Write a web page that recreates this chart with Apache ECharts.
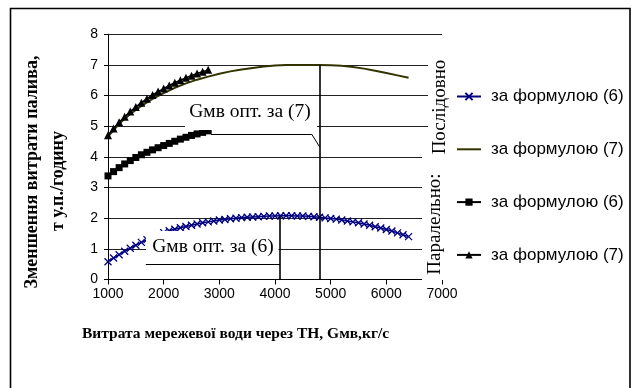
<!DOCTYPE html>
<html>
<head>
<meta charset="utf-8">
<script src="https://cdn.jsdelivr.net/npm/echarts@6/dist/echarts.min.js"></script>
<style>
html,body{margin:0;padding:0;background:#fff;}
#c{width:633px;height:388px;}
</style>
</head>
<body>
<div id="c"></div>
<script>
// X values (кг/с)
const xSeq = [1000,1100,1200,1300,1400,1500,1600,1700,1800,1900,2000,2100,2200,2300,2400,2500,2600,2700,2800,2900,3000,3100,3200,3300,3400,3500,3600,3700,3800,3900,4000,4100,4200,4300,4400,4500,4600,4700,4800,4900,5000,5100,5200,5300,5400,5500,5600,5700,5800,5900,6000,6100,6200,6300,6400];
// Послідовно, за формулою (6)
const seq6 = [0.58,0.70,0.81,0.92,1.02,1.12,1.21,1.30,1.38,1.46,1.53,1.59,1.64,1.69,1.73,1.77,1.81,1.85,1.88,1.91,1.94,1.96,1.98,2.00,2.02,2.03,2.04,2.05,2.06,2.07,2.07,2.08,2.08,2.08,2.07,2.07,2.06,2.05,2.03,2.01,1.99,1.97,1.94,1.91,1.88,1.85,1.81,1.77,1.72,1.68,1.63,1.58,1.52,1.46,1.40];
// Послідовно, за формулою (7)
const xSeq7 = [1000,1200,1400,1600,1800,2000,2200,2400,2600,2800,3000,3200,3400,3600,3800,4000,4200,4400,4600,4800,5000,5200,5400,5600,5800,6000,6200,6400];
const seq7 = [4.66,5.08,5.40,5.66,5.89,6.08,6.25,6.40,6.52,6.62,6.71,6.79,6.85,6.90,6.95,6.98,7.00,7.00,7.00,7.00,6.99,6.97,6.93,6.88,6.81,6.74,6.66,6.58];
// Паралельно
const xPar = [1000,1100,1200,1300,1400,1500,1600,1700,1800,1900,2000,2100,2200,2300,2400,2500,2600,2700,2800];
const par6 = [3.38,3.52,3.65,3.77,3.88,3.98,4.07,4.15,4.23,4.30,4.37,4.44,4.51,4.58,4.64,4.70,4.75,4.80,4.85];
const par7 = [4.71,4.93,5.13,5.31,5.48,5.63,5.77,5.90,6.02,6.13,6.23,6.33,6.42,6.50,6.58,6.65,6.72,6.78,6.84];
// Optimum markers (x, top y)
const opt6 = [4090, 2.07];
const opt7 = [4800, 7.0];
const callout6 = [[1680, 0.51], [4090, 0.51]];
const callout7 = [[2850, 4.74], [4660, 4.74], [4800, 4.33]];
const names = ['за формулою (6)', 'за формулою (7)', 'за формулою (6) ', 'за формулою (7) '];

const zip = (xs, ys) => xs.map((x, i) => [x, ys[i]]);
const SERIF = '"Liberation Serif","Times New Roman",serif';
const SANS = '"Liberation Sans",Arial,sans-serif';

const chart = echarts.init(document.getElementById('c'), null, {renderer: 'canvas'});
const segs = [];
segs.push([{coord: [opt6[0], opt6[1]]}, {coord: [opt6[0], 0]}]);
segs.push([{coord: [opt7[0], opt7[1]]}, {coord: [opt7[0], 0]}]);
const thin = [];
for (let i = 0; i < callout6.length - 1; i++) thin.push([{coord: callout6[i]}, {coord: callout6[i + 1]}]);
for (let i = 0; i < callout7.length - 1; i++) thin.push([{coord: callout7[i]}, {coord: callout7[i + 1]}]);

chart.setOption({
  animation: false,
  backgroundColor: '#fff',
  grid: {left: 108, right: 191, top: 34.3, bottom: 108.5, containLabel: false},
  xAxis: {
    type: 'value', min: 1000, max: 7000, interval: 1000,
    axisLine: {lineStyle: {color: '#000', width: 1}},
    axisTick: {show: true, inside: false, length: 5, lineStyle: {color: '#000'}},
    axisLabel: {color: '#000', fontFamily: SANS, fontSize: 14, margin: 8, formatter: v => String(v)},
    splitLine: {show: false}
  },
  yAxis: {
    type: 'value', min: 0, max: 8, interval: 1,
    axisLine: {show: true, lineStyle: {color: '#000', width: 1}},
    axisTick: {show: true, inside: false, length: 4, lineStyle: {color: '#000'}},
    axisLabel: {color: '#000', fontFamily: SANS, fontSize: 14, margin: 10, formatter: v => String(v)},
    splitLine: {show: true, lineStyle: {color: '#222', width: 1}}
  },
  legend: {
    orient: 'vertical', left: 456, top: 88, padding: 0, itemWidth: 24, itemHeight: 9, itemGap: 35.8,
    textStyle: {color: '#000', fontFamily: SANS, fontSize: 17, padding: [0, 0, 0, 5]},
    data: [
      {name: names[0]},
      {name: names[1], itemStyle: {color: 'rgba(0,0,0,0)', borderColor: 'rgba(0,0,0,0)', borderWidth: 0}},
      {name: names[2]},
      {name: names[3]}
    ]
  },
  series: [
    {
      name: names[0], type: 'line', data: zip(xSeq, seq6), z: 3,
      symbol: 'path://M0,0L10,10M10,0L0,10', symbolSize: 7,
      itemStyle: {color: '#000080', borderColor: '#000080', borderWidth: 1.3},
      lineStyle: {color: '#000080', width: 1.5},
      markLine: {
        silent: true, symbol: 'none', label: {show: false},
        lineStyle: {color: '#000', width: 1.6, type: 'solid'},
        emphasis: {disabled: true},
        data: segs
      }
    },
    {
      name: names[1], type: 'line', data: zip(xSeq7, seq7), z: 3,
      symbol: 'none', showSymbol: false,
      itemStyle: {color: '#333300'},
      lineStyle: {color: '#333300', width: 2},
      markLine: {
        silent: true, symbol: 'none', label: {show: false},
        lineStyle: {color: '#000', width: 1, type: 'solid'},
        emphasis: {disabled: true},
        data: thin
      }
    },
    {
      name: names[2], type: 'line', data: zip(xPar, par6), z: 3,
      symbol: 'rect', symbolSize: 7,
      itemStyle: {color: '#000'},
      lineStyle: {color: '#000', width: 1.5}
    },
    {
      name: names[3], type: 'line', data: zip(xPar, par7), z: 3,
      symbol: 'triangle', symbolSize: 8,
      itemStyle: {color: '#000'},
      lineStyle: {color: '#000', width: 1.5}
    }
  ],
  graphic: {elements: [
    {type: 'rect', z: 1, shape: {x: 10.5, y: 8.5, width: 619.5, height: 400}, style: {fill: 'none', stroke: '#000', lineWidth: 1.6}, silent: true},
    {type: 'rect', z: 100, shape: {x: 185, y: 99, width: 132, height: 31}, style: {fill: '#fff'}, silent: true},
    {type: 'rect', z: 100, shape: {x: 146, y: 231, width: 132.5, height: 31}, style: {fill: '#fff'}, silent: true},
    {type: 'rect', z: 100, shape: {x: 428, y: 56, width: 22, height: 102}, style: {fill: '#fff'}, silent: true},
    {type: 'rect', z: 100, shape: {x: 422, y: 150, width: 27, height: 130}, style: {fill: '#fff'}, silent: true},
    {type: 'text', z: 101, x: 250, y: 112, style: {text: 'Gмв опт. за (7)', font: '19.5px ' + SERIF, fill: '#000', align: 'center', verticalAlign: 'middle'}, silent: true},
    {type: 'text', z: 101, x: 213, y: 247, style: {text: 'Gмв опт. за (6)', font: '19.5px ' + SERIF, fill: '#000', align: 'center', verticalAlign: 'middle'}, silent: true},
    {type: 'text', z: 101, x: 440, y: 107, rotation: Math.PI / 2, style: {text: 'Послідовно', font: '19px ' + SERIF, fill: '#000', align: 'center', verticalAlign: 'middle'}, silent: true},
    {type: 'text', z: 101, x: 435, y: 224, rotation: Math.PI / 2, style: {text: 'Паралельно:', font: '19px ' + SERIF, fill: '#000', align: 'center', verticalAlign: 'middle'}, silent: true},
    {type: 'text', z: 101, x: 32, y: 172, rotation: Math.PI / 2, style: {text: 'Зменшення витрати палива,', font: 'bold 18px ' + SERIF, fill: '#000', align: 'center', verticalAlign: 'middle'}, silent: true},
    {type: 'text', z: 101, x: 58, y: 181, rotation: Math.PI / 2, style: {text: 'т у.п./годину', font: 'bold 18px ' + SERIF, fill: '#000', align: 'center', verticalAlign: 'middle'}, silent: true},
    {type: 'text', z: 101, x: 82, y: 334, style: {text: 'Витрата мережевої води через ТН, Gмв,кг/с', font: 'bold 15.5px ' + SERIF, fill: '#000', align: 'left', verticalAlign: 'middle'}, silent: true}
  ]}
});
</script>
</body>
</html>
